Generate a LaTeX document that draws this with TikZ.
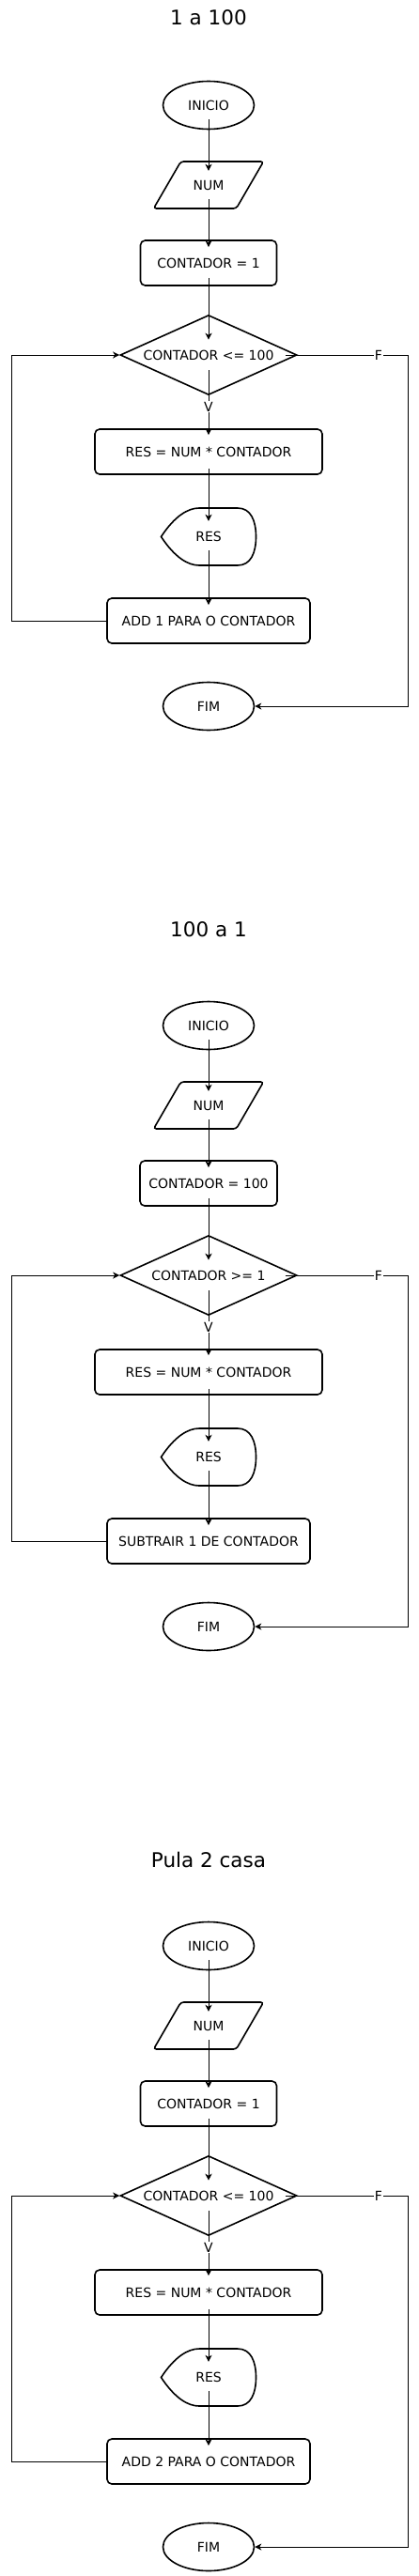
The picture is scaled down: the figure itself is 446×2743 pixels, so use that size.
\documentclass[tikz,border=0pt]{standalone}
\usepackage{fontspec}
\setmainfont{DejaVu Sans}
\usetikzlibrary{shapes.geometric,arrows.meta}

% display shape drawn round a named (empty) node
\newcommand\saidatela[1]{\draw[line width=1.6pt,shift={(#1.center)}]
	(-50.5,0) .. controls (-36,22) and (-22,30.5) .. (-10,30.5) -- (31,30.5)
	.. controls (45,30.5) and (50.5,17) .. (50.5,0)
	.. controls (50.5,-17) and (45,-30.5) .. (31,-30.5) -- (-10,-30.5)
	.. controls (-22,-30.5) and (-36,-22) .. cycle;}
% input parallelogram drawn round a named (empty) node
\newcommand\entradatela[1]{\draw[line width=1.6pt,rounded corners=3pt,shift={(#1.center)}]
	(-58.5,-25) -- (-29.5,25) -- (58.5,25) -- (29.5,-25) -- cycle;}

\begin{document}
\begin{tikzpicture}[x=1pt,y=1pt,
	every node/.style={font=\fontsize{14}{16}\selectfont,inner sep=0pt},
	terminal/.style={ellipse,draw,line width=1.6pt,minimum width=97pt,minimum height=51pt},
	entrada/.style={minimum width=117pt,minimum height=50pt},
	processo/.style={rectangle,draw,line width=1.6pt,rounded corners=5pt,minimum height=48pt},
	decisao/.style={diamond,draw,line width=1.6pt,aspect=2.2,minimum width=188pt,minimum height=85pt},
	saida/.style={minimum width=101pt,minimum height=61pt},
	rotulo/.style={fill=white,inner sep=1pt},
	titulo/.style={font=\fontsize{21.5}{24}\selectfont},
	seta/.style={line width=1pt,-{Stealth[length=7pt,width=7pt,inset=2pt]}}]
\useasboundingbox (0,0) rectangle (446,-2743);

% 1 a 100
\node[titulo] (tit1) at (222,-18.5) {1 a 100};
\node[terminal] (inicio1) at (222,-112) {INICIO};
\node[entrada] (num1) at (222,-197) {NUM};
\entradatela{num1}
\node[processo,minimum width=145pt] (cont1) at (222,-280) {CONTADOR = 1};
\node[decisao] (cond1) at (222,-378) {CONTADOR <= 100};
\node[processo,minimum width=242pt] (calc1) at (222,-481) {RES = NUM * CONTADOR};
\node[saida] (res1) at (222,-571.5) {RES};
\saidatela{res1}
\node[processo,minimum width=216pt] (passo1) at (222,-661) {ADD 1 PARA O CONTADOR};
\node[terminal] (fim1) at (222,-752) {FIM};
\coordinate (esq1) at (12,-378);
\coordinate (dir1) at (434,-378);
\draw[seta] ([yshift=11pt]inicio1.south) -- ([yshift=-10pt]num1.north);
\draw[seta] ([yshift=10pt]num1.south) -- ([yshift=-8pt]cont1.north);
\draw[seta] ([yshift=9pt]cont1.south) -- ([yshift=-27pt]cond1.north);
\draw[seta] ([yshift=27pt]cond1.south) -- ([yshift=-7pt]calc1.north);
\draw[seta] ([yshift=7pt]calc1.south) -- ([yshift=-14pt]res1.north);
\draw[seta] ([yshift=16pt]res1.south) -- ([yshift=-8pt]passo1.north);
\draw[seta] (passo1.west) -| (esq1) -- (cond1.west);
\draw[seta] ([xshift=-13pt]cond1.east) -- (dir1) |- (fim1.east);
\node[rotulo] (v1) at (222,-433) {V};
\node[rotulo] (f1) at (403,-378) {F};

% 100 a 1
\begin{scope}[yshift=-980pt]
\node[titulo] (tit2) at (222,-10) {100 a 1};
\node[terminal] (inicio2) at (222,-112) {INICIO};
\node[entrada] (num2) at (222,-197) {NUM};
\entradatela{num2}
\node[processo,minimum width=146pt] (cont2) at (222,-280) {CONTADOR = 100};
\node[decisao] (cond2) at (222,-378) {CONTADOR >= 1};
\node[processo,minimum width=242pt] (calc2) at (222,-481) {RES = NUM * CONTADOR};
\node[saida] (res2) at (222,-571.5) {RES};
\saidatela{res2}
\node[processo,minimum width=216pt] (passo2) at (222,-661) {SUBTRAIR 1 DE CONTADOR};
\node[terminal] (fim2) at (222,-752) {FIM};
\coordinate (esq2) at (12,-378);
\coordinate (dir2) at (434,-378);
\draw[seta] ([yshift=11pt]inicio2.south) -- ([yshift=-10pt]num2.north);
\draw[seta] ([yshift=10pt]num2.south) -- ([yshift=-8pt]cont2.north);
\draw[seta] ([yshift=9pt]cont2.south) -- ([yshift=-27pt]cond2.north);
\draw[seta] ([yshift=27pt]cond2.south) -- ([yshift=-7pt]calc2.north);
\draw[seta] ([yshift=7pt]calc2.south) -- ([yshift=-14pt]res2.north);
\draw[seta] ([yshift=16pt]res2.south) -- ([yshift=-8pt]passo2.north);
\draw[seta] (passo2.west) -| (esq2) -- (cond2.west);
\draw[seta] ([xshift=-13pt]cond2.east) -- (dir2) |- (fim2.east);
\node[rotulo] (v2) at (222,-433) {V};
\node[rotulo] (f2) at (403,-378) {F};
\end{scope}

% Pula 2 casa
\begin{scope}[yshift=-1960pt]
\node[titulo] (tit3) at (222,-20) {Pula 2 casa};
\node[terminal] (inicio3) at (222,-112) {INICIO};
\node[entrada] (num3) at (222,-197) {NUM};
\entradatela{num3}
\node[processo,minimum width=145pt] (cont3) at (222,-280) {CONTADOR = 1};
\node[decisao] (cond3) at (222,-378) {CONTADOR <= 100};
\node[processo,minimum width=242pt] (calc3) at (222,-481) {RES = NUM * CONTADOR};
\node[saida] (res3) at (222,-571.5) {RES};
\saidatela{res3}
\node[processo,minimum width=216pt] (passo3) at (222,-661) {ADD 2 PARA O CONTADOR};
\node[terminal] (fim3) at (222,-752) {FIM};
\coordinate (esq3) at (12,-378);
\coordinate (dir3) at (434,-378);
\draw[seta] ([yshift=11pt]inicio3.south) -- ([yshift=-10pt]num3.north);
\draw[seta] ([yshift=10pt]num3.south) -- ([yshift=-8pt]cont3.north);
\draw[seta] ([yshift=9pt]cont3.south) -- ([yshift=-27pt]cond3.north);
\draw[seta] ([yshift=27pt]cond3.south) -- ([yshift=-7pt]calc3.north);
\draw[seta] ([yshift=7pt]calc3.south) -- ([yshift=-14pt]res3.north);
\draw[seta] ([yshift=16pt]res3.south) -- ([yshift=-8pt]passo3.north);
\draw[seta] (passo3.west) -| (esq3) -- (cond3.west);
\draw[seta] ([xshift=-13pt]cond3.east) -- (dir3) |- (fim3.east);
\node[rotulo] (v3) at (222,-433) {V};
\node[rotulo] (f3) at (403,-378) {F};
\end{scope}
\end{tikzpicture}
\end{document}
